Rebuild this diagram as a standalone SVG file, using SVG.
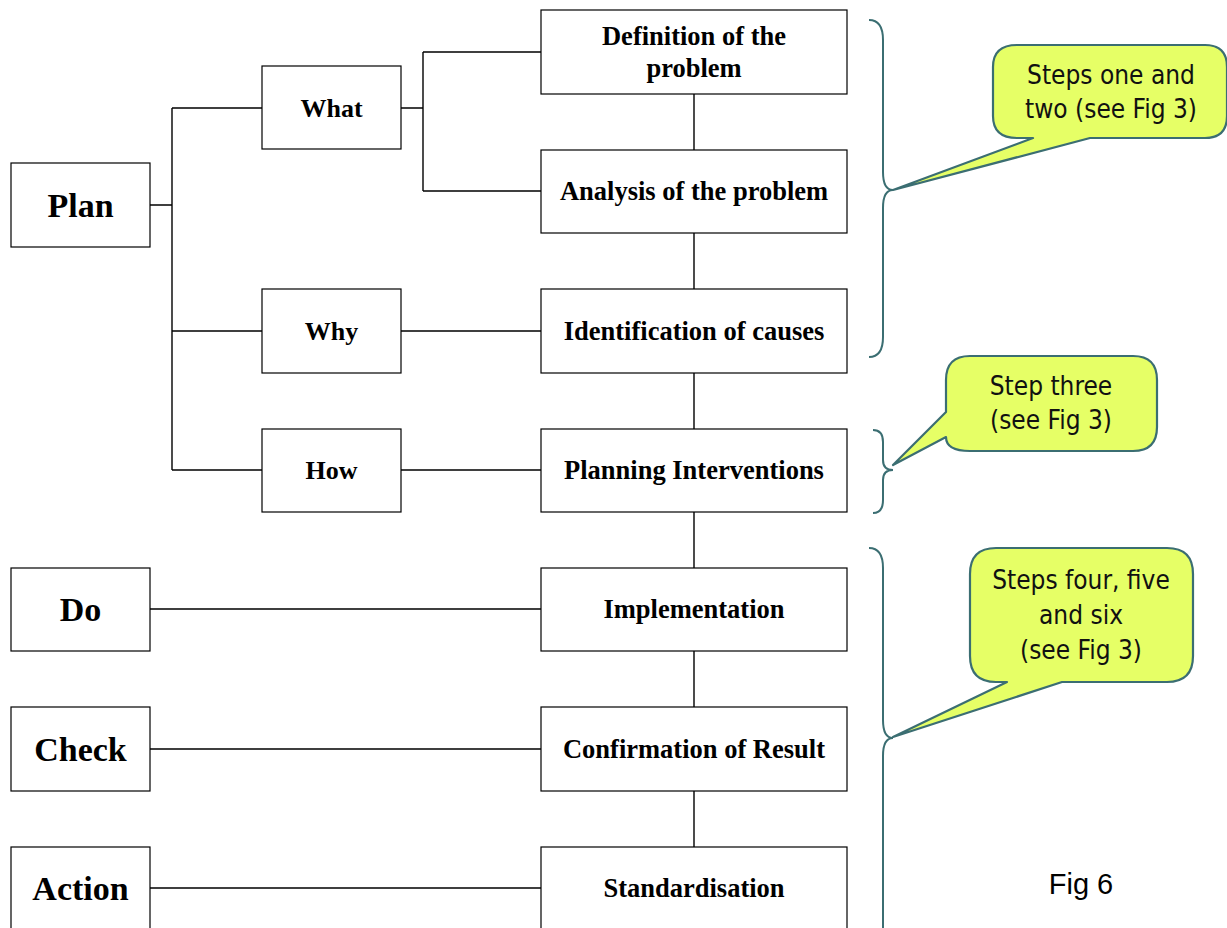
<svg xmlns="http://www.w3.org/2000/svg" width="1227" height="928" viewBox="0 0 1227 928">
<style>
.box{fill:#fff;stroke:#000;stroke-width:1.2}
.ln{stroke:#000;stroke-width:1.4;fill:none}
.t{font-family:"Liberation Serif",serif;font-weight:bold;fill:#000;text-anchor:middle}
.big{font-size:34px}
.mid{font-size:26.5px}
.sm{font-size:26px}
.brace{fill:none;stroke:#3b6e72;stroke-width:2}
.call{fill:#e6ff66;stroke:#3b6e72;stroke-width:2.2;stroke-linejoin:round}
.ct{font-family:"DejaVu Sans Condensed","Liberation Sans",sans-serif;font-size:26px;fill:#111;text-anchor:middle}
</style>
<rect width="1227" height="928" fill="#fff"/>
<g id="connectors">
<path class="ln" d="M150,205H172M172,108V470M172,108H262M172,331H262M172,470H262"/>
<path class="ln" d="M401,108H423M423,52V191M423,52H541M423,191H541"/>
<path class="ln" d="M401,331H541M401,470H541"/>
<path class="ln" d="M150,609H541M150,749H541M150,888H541"/>
<path class="ln" d="M694,94V150M694,233V289M694,373V429M694,512V568M694,651V707M694,791V847"/>
</g>
<g id="plan"><rect class="box" x="11" y="163" width="139" height="84"/><text class="t big" x="80.5" y="217">Plan</text></g>
<g id="do"><rect class="box" x="11" y="568" width="139" height="83"/><text class="t big" x="80.5" y="621">Do</text></g>
<g id="check"><rect class="box" x="11" y="707" width="139" height="84"/><text class="t big" x="80.5" y="761">Check</text></g>
<g id="action"><rect class="box" x="11" y="847" width="139" height="84"/><text class="t big" x="80.5" y="900">Action</text></g>
<g id="what"><rect class="box" x="262" y="66" width="139" height="83"/><text class="t sm" x="331.5" y="117">What</text></g>
<g id="why"><rect class="box" x="262" y="289" width="139" height="84"/><text class="t sm" x="331.5" y="340">Why</text></g>
<g id="how"><rect class="box" x="262" y="429" width="139" height="83"/><text class="t sm" x="331.5" y="479">How</text></g>
<g id="definition"><rect class="box" x="541" y="10" width="306" height="84"/><text class="t mid" x="694" y="45">Definition of the</text><text class="t mid" x="694" y="77">problem</text></g>
<g id="analysis"><rect class="box" x="541" y="150" width="306" height="83"/><text class="t mid" x="694" y="200">Analysis of the problem</text></g>
<g id="identification"><rect class="box" x="541" y="289" width="306" height="84"/><text class="t mid" x="694" y="340">Identification of causes</text></g>
<g id="planning"><rect class="box" x="541" y="429" width="306" height="83"/><text class="t mid" x="694" y="479">Planning Interventions</text></g>
<g id="implementation"><rect class="box" x="541" y="568" width="306" height="83"/><text class="t mid" x="694" y="618">Implementation</text></g>
<g id="confirmation"><rect class="box" x="541" y="707" width="306" height="84"/><text class="t mid" x="694" y="758">Confirmation of Result</text></g>
<g id="standardisation"><rect class="box" x="541" y="847" width="306" height="84"/><text class="t mid" x="694" y="897">Standardisation</text></g>
<g id="braces">
<path class="brace" d="M869,20Q883,20 883,40V172Q883,190 893,190Q883,190 883,208V337Q883,357 869,357"/>
<path class="brace" d="M873,430Q883,430 883,442V460Q883,470 893,470Q883,470 883,480V500Q883,513 873,513"/>
<path class="brace" d="M869,548Q883,548 883,568V720Q883,738 893,738Q883,738 883,756V928"/>
</g>
<g id="callout1"><path class="call" d="M1017,45H1205Q1227,45 1227,67V116Q1227,138 1205,138H1090L893,190L1033,138H1017Q993,138 993,116V67Q993,45 1017,45Z"/><text class="ct" x="1111" y="84">Steps one and</text><text class="ct" x="1111" y="118">two (see Fig 3)</text></g>
<g id="callout2"><path class="call" d="M970,356H1133Q1157,356 1157,380V427Q1157,451 1133,451H970Q946,451 946,437L893,465L946,412V380Q946,356 970,356Z"/><text class="ct" x="1051" y="395">Step three</text><text class="ct" x="1051" y="429">(see Fig 3)</text></g>
<g id="callout3"><path class="call" d="M996,548H1167Q1193,548 1193,574V656Q1193,682 1167,682H1062L893,737L1007,682H996Q970,682 970,656V574Q970,548 996,548Z"/><text class="ct" x="1081" y="589">Steps four, five</text><text class="ct" x="1081" y="624">and six</text><text class="ct" x="1081" y="659">(see Fig 3)</text></g>
<text id="fig" x="1081" y="894" font-family="Liberation Sans, sans-serif" font-size="29" text-anchor="middle" fill="#000">Fig 6</text>
</svg>
